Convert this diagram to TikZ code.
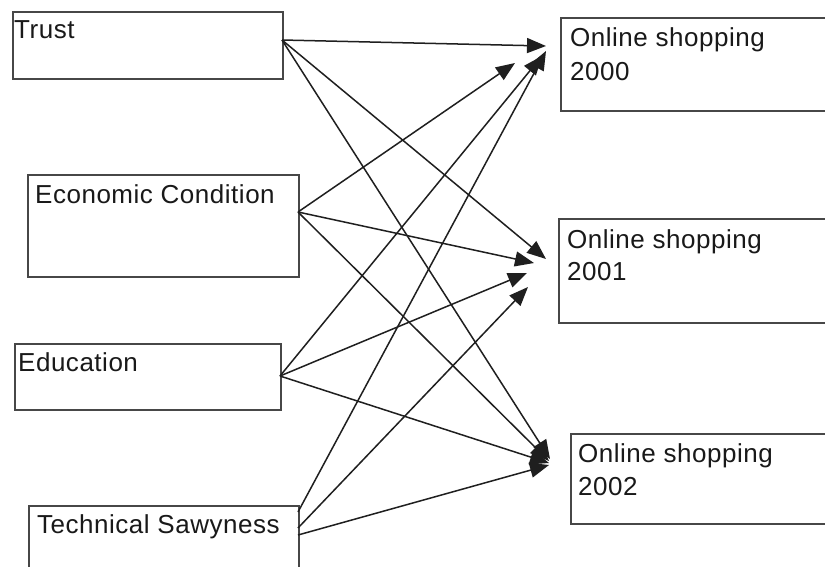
\documentclass[tikz,border=0pt]{standalone}
\usepackage{fontspec}
\setmainfont[LetterSpace=2]{Liberation Sans}
\usetikzlibrary{arrows.meta}
\begin{document}
\begin{tikzpicture}[x=1pt,y=-1pt,
  boxshape/.style={draw=black!72, line width=2pt, inner sep=0pt, anchor=north west},
  lbl/.style={anchor=base west, inner sep=0pt, font=\fontsize{26}{33}\selectfont, text=black!90},
  conn/.style={draw=black!88, line width=1.5pt, -{Triangle[length=19pt,width=15pt]}}]
\useasboundingbox (0,0) rectangle (825,566);
\clip (0,0) rectangle (825,566);
\fill[white] (0,0) rectangle (825,566);
% left boxes
\node[boxshape, minimum width=270pt, minimum height=67pt] (trust) at (12,11) {};
\node[boxshape, minimum width=271pt, minimum height=102pt] (econ) at (27,174) {};
\node[boxshape, minimum width=266pt, minimum height=66pt] (edu) at (14,343) {};
\node[boxshape, minimum width=270pt, minimum height=80pt] (tech) at (28,505) {};
% right boxes
\node[boxshape, minimum width=290pt, minimum height=93pt] (y2000) at (560,17) {};
\node[boxshape, minimum width=290pt, minimum height=104pt] (y2001) at (558,218) {};
\node[boxshape, minimum width=290pt, minimum height=90pt] (y2002) at (570,433) {};
% labels
\node[lbl] (ttrust) at (14,38) {Trust};
\node[lbl] (tecon) at (35,203) {Economic Condition};
\node[lbl] (tedu) at (18,371) {Education};
\node[lbl] (ttech) at (37,533) {Technical Sawyness};
\node[lbl] (t2000a) at (570,46) {Online shopping};
\node[lbl] (t2000b) at (570,80) {2000};
\node[lbl] (t2001a) at (567,248) {Online shopping};
\node[lbl] (t2001b) at (567,280) {2001};
\node[lbl] (t2002a) at (578,462) {Online shopping};
\node[lbl] (t2002b) at (578,495) {2002};
% connector end points
\coordinate (sTrust) at (282,40);
\coordinate (sEcon) at (298,212);
\coordinate (sEdu) at (280,376);
\coordinate (sTechA) at (298,512);
\coordinate (sTechB) at (298,528);
\coordinate (sTechC) at (298,535);
\coordinate (a1) at (546,46);
\coordinate (a2) at (515,63);
\coordinate (a3) at (542,56);
\coordinate (a4) at (546,51);
\coordinate (b1) at (546,259);
\coordinate (b2) at (534,263);
\coordinate (b3) at (527,273);
\coordinate (b4) at (528,287);
\coordinate (c1) at (550,459);
\coordinate (c2) at (549,461);
\coordinate (c3) at (549,463);
\coordinate (c4) at (549,465);
% connectors
\draw[conn] (sTrust) -- (a1);
\draw[conn] (sTrust) -- (b1);
\draw[conn] (sTrust) -- (c1);
\draw[conn] (sEcon) -- (a2);
\draw[conn] (sEcon) -- (b2);
\draw[conn] (sEcon) -- (c2);
\draw[conn] (sEdu) -- (a3);
\draw[conn] (sEdu) -- (b3);
\draw[conn] (sEdu) -- (c3);
\draw[conn] (sTechA) -- (a4);
\draw[conn] (sTechB) -- (b4);
\draw[conn] (sTechC) -- (c4);
\end{tikzpicture}
\end{document}
